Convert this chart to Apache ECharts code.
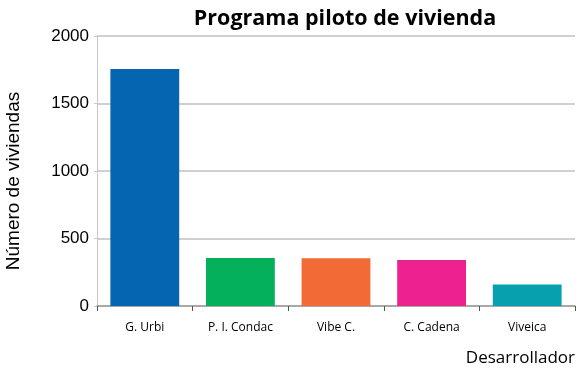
<!DOCTYPE html>
<html>
<head>
<meta charset="utf-8">
<script src="https://cdn.jsdelivr.net/npm/echarts@6/dist/echarts.min.js"></script>
<style>
  html, body { margin: 0; padding: 0; background: #fff; }
  #chart { width: 580px; height: 377px; }
</style>
</head>
<body>
<div id="chart"></div>
<script>
// datos
var desarrolladores = ['G. Urbi', 'P. I. Condac', 'Vibe C.', 'C. Cadena', 'Viveica'];
var viviendas = [1755, 355, 353, 340, 160];
var colores = ['#0565b0', '#05b05a', '#f26a35', '#ee2190', '#06a0ae'];
var yTicks = [0, 500, 1000, 1500, 2000];

var myChart = echarts.init(document.getElementById('chart'));

var serData = [];
for (var i = 0; i < viviendas.length; i++) {
    serData.push({ value: viviendas[i], itemStyle: { color: colores[i] } });
}

myChart.setOption({
    animation: false,
    title: {
        text: 'Programa piloto de vivienda',
        left: 340,
        top: 3,
        textAlign: 'center',
        textStyle: { fontFamily: 'Open Sans', fontWeight: 'bold', fontSize: 21.5, color: '#000' }
    },
    grid: { left: 97, right: 5, top: 36, bottom: 71, outerBoundsMode: 'none' },
    xAxis: {
        type: 'category',
        data: desarrolladores,
        name: 'Desarrollador',
        nameLocation: 'end',
        nameGap: 0,
        nameTextStyle: {
            fontFamily: 'Open Sans', fontSize: 17, color: '#000',
            align: 'right', verticalAlign: 'top', padding: [44, 0, 0, 0]
        },
        axisLine: { lineStyle: { color: '#9a9a9a', width: 1.5 } },
        axisTick: { show: true, length: 5, lineStyle: { color: '#555' } },
        axisLabel: { fontFamily: 'Open Sans', fontSize: 12, color: '#000', margin: 16 }
    },
    yAxis: {
        type: 'value',
        min: 0,
        max: 2000,
        interval: 500,
        name: 'Número de viviendas',
        nameLocation: 'middle',
        nameGap: 74,
        nameRotate: 90,
        nameTextStyle: {
            fontFamily: 'Liberation Sans', fontSize: 19, color: '#000',
            padding: [0, 20, 0, 0]
        },
        axisLine: { show: true, lineStyle: { color: '#c8c8c8' } },
        axisTick: { show: true, length: 3, lineStyle: { color: '#c8c8c8' } },
        axisLabel: {
            fontFamily: 'Liberation Sans', fontSize: 17, color: '#000', margin: 8,
            formatter: function (v) { return yTicks.indexOf(v) >= 0 ? String(v) : ''; }
        },
        splitLine: { show: true, lineStyle: { color: '#c0c0c0', width: 1.5 } }
    },
    series: [{
        name: 'Número de viviendas',
        type: 'bar',
        data: serData,
        barWidth: '72%'
    }]
});
</script>
</body>
</html>
